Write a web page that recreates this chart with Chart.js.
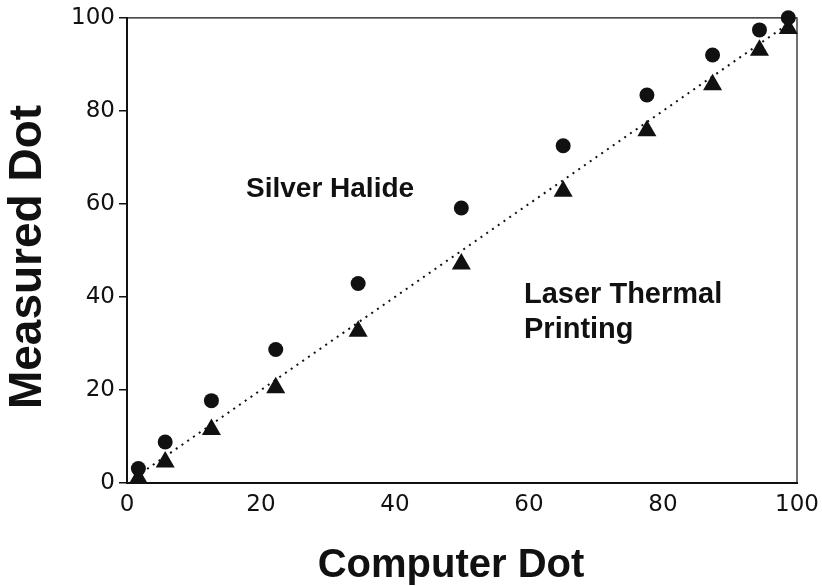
<!DOCTYPE html>
<html>
<head>
<meta charset="utf-8">
<script src="https://cdn.jsdelivr.net/npm/chart.js@4.4.1/dist/chart.umd.min.js"></script>
<style>
  html, body { margin: 0; padding: 0; background: #fff; }
  #wrap { width: 822px; height: 586px; }
</style>
</head>
<body>
<div id="wrap"><canvas id="dotChart" width="822" height="586"></canvas></div>
<script>
// data
const computerDot = [1.7, 5.7, 12.6, 22.2, 34.5, 49.9, 65.1, 77.6, 87.4, 94.4, 98.7];
const silverHalide = [3.1, 8.8, 17.7, 28.7, 42.9, 59.1, 72.5, 83.4, 92.0, 97.4, 100.0];
const laserThermal = [1.0, 4.5, 11.5, 20.5, 32.6, 47.1, 62.7, 75.7, 85.6, 93.0, 97.7];
const refLineX = [3, 99];
const refLineY = [3, 99];
const tickValues = [0, 20, 40, 60, 80, 100];

const toPoints = (xs, ys) => xs.map((x, i) => ({ x: x, y: ys[i] }));

const FONT = "'Liberation Sans', Arial, Helvetica, sans-serif";
const TICK_FONT = "'DejaVu Sans', sans-serif";
const INK = '#111';

// texte dans le graphique + cadre haut/droite
const textPlugin = {
  id: 'textPlugin',
  afterDraw(chart) {
    const ctx = chart.ctx;
    const a = chart.chartArea;
    ctx.save();
    ctx.strokeStyle = INK;
    ctx.lineWidth = 1.2;
    ctx.beginPath();
    ctx.moveTo(a.left, a.top);
    ctx.lineTo(a.right, a.top);
    ctx.lineTo(a.right, a.bottom);
    ctx.stroke();

    ctx.fillStyle = INK;
    ctx.textBaseline = 'alphabetic';
    ctx.textAlign = 'left';
    ctx.font = 'bold 28px ' + FONT;
    ctx.fillText('Silver Halide', 246, 197);
    ctx.font = 'bold 29px ' + FONT;
    ctx.fillText('Laser Thermal', 524, 303);
    ctx.fillText('Printing', 524, 338);

    ctx.textAlign = 'center';
    ctx.font = 'bold 40px ' + FONT;
    ctx.fillText('Computer Dot', 451, 577);

    ctx.translate(41, 257);
    ctx.rotate(-Math.PI / 2);
    ctx.font = 'bold 46px ' + FONT;
    ctx.fillText('Measured Dot', 0, 0);
    ctx.restore();
  }
};

new Chart(document.getElementById('dotChart'), {
  type: 'scatter',
  data: {
    datasets: [
      {
        label: 'Silver Halide',
        data: toPoints(computerDot, silverHalide),
        pointStyle: 'circle',
        pointRadius: 7.5,
        backgroundColor: INK,
        borderColor: INK,
        borderWidth: 0,
        clip: false
      },
      {
        label: 'Laser Thermal Printing',
        data: toPoints(computerDot, laserThermal),
        pointStyle: 'triangle',
        pointRadius: 11,
        backgroundColor: INK,
        borderColor: INK,
        borderWidth: 0,
        clip: false
      },
      {
        type: 'line',
        label: 'y = x',
        data: toPoints(refLineX, refLineY),
        borderColor: INK,
        borderWidth: 2,
        borderDash: [2, 5],
        pointRadius: 0,
        fill: false
      }
    ]
  },
  options: {
    responsive: false,
    animation: false,
    layout: { padding: { left: 0, right: 25, top: 14, bottom: 0 } },
    plugins: {
      legend: { display: false },
      tooltip: { enabled: false }
    },
    scales: {
      x: {
        type: 'linear',
        min: 0,
        max: 100,
        afterFit(scale) { scale.height = 103; },
        afterBuildTicks(scale) { scale.ticks = tickValues.map(v => ({ value: v })); },
        grid: { display: false },
        border: { display: true, width: 2, color: INK },
        ticks: {
          padding: 0,
          color: INK,
          font: { family: TICK_FONT, size: 23 }
        }
      },
      y: {
        type: 'linear',
        min: 0,
        max: 100,
        afterFit(scale) { scale.width = 127; },
        afterBuildTicks(scale) { scale.ticks = tickValues.map(v => ({ value: v })); },
        grid: {
          display: true,
          drawOnChartArea: false,
          drawTicks: true,
          tickLength: 8,
          color: INK,
          lineWidth: 1.5
        },
        border: { display: true, width: 2, color: INK },
        ticks: {
          padding: 4,
          color: INK,
          font: { family: TICK_FONT, size: 23 }
        }
      }
    }
  },
  plugins: [textPlugin]
});
</script>
</body>
</html>
